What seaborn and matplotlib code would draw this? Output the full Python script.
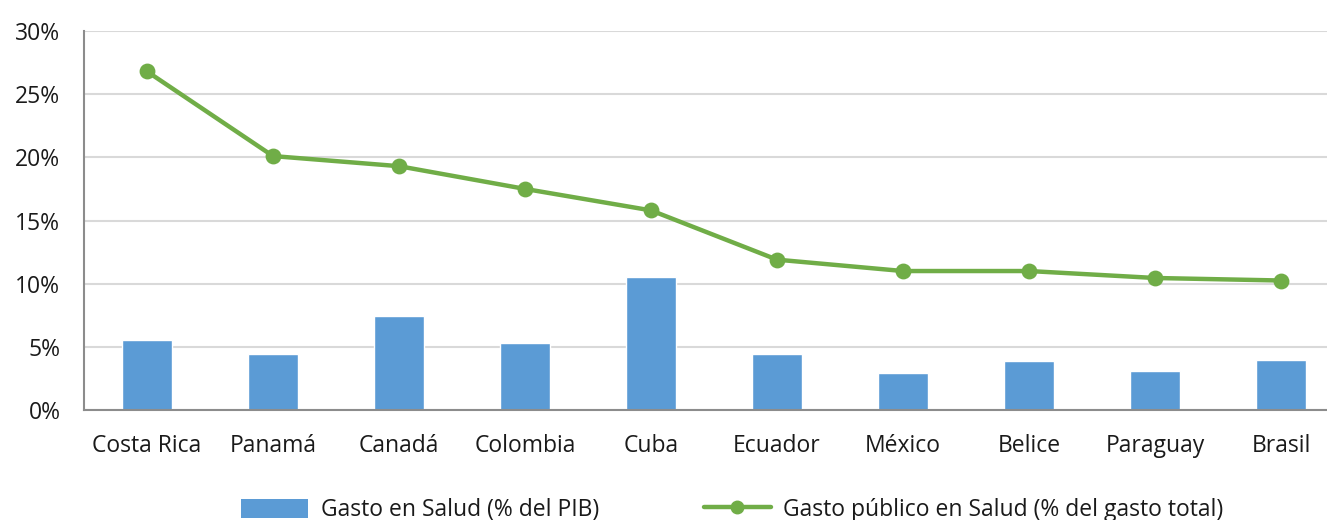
import matplotlib
matplotlib.use("Agg")
import matplotlib.pyplot as plt
import seaborn as sns
import pandas as pd
from matplotlib.patches import Patch
from matplotlib.lines import Line2D
from matplotlib.ticker import FuncFormatter

countries = ["Costa Rica", "Panamá", "Canadá", "Colombia", "Cuba",
             "Ecuador", "México", "Belice", "Paraguay", "Brasil"]
gasto_pib = [5.55, 4.4, 7.45, 5.3, 10.5, 4.4, 2.95, 3.9, 3.1, 3.95]
gasto_publico = [26.8, 20.1, 19.3, 17.5, 15.8, 11.9, 11.0, 11.0, 10.45, 10.25]
label_bar = "Gasto en Salud (% del PIB)"
label_line = "Gasto público en Salud (% del gasto total)"

df = pd.DataFrame({"pais": countries, "pib": gasto_pib, "publico": gasto_publico})

sns.set_theme(style="white")
plt.rcParams["font.family"] = ["Open Sans", "DejaVu Sans"]

blue = "#5B9BD5"
green = "#70AD47"

fig = plt.figure(figsize=(13.27, 5.2), dpi=100)
ax = fig.add_axes([84/1327, 1-410/520, 1-84/1327, (410-31)/520])

sns.barplot(data=df, x="pais", y="pib", color=blue, width=0.39,
            saturation=1, ax=ax, zorder=2)
sns.pointplot(data=df, x="pais", y="publico", color=green, markers="o",
              linestyles="-", linewidth=3.2, markersize=9, ax=ax, zorder=3)

ax.set_xlim(-0.5, 9.365)
ax.set_ylim(0, 30)
ax.set_yticks([0, 5, 10, 15, 20, 25, 30])
ax.yaxis.set_major_formatter(FuncFormatter(lambda v, p: f"{int(v)}%"))
ax.grid(axis="y", color="#d9d9d9", linewidth=1.5, zorder=0)
ax.set_axisbelow(True)
ax.set_xlabel("")
ax.set_ylabel("")
for s in ["top", "right"]:
    ax.spines[s].set_visible(False)
for s in ["left", "bottom"]:
    ax.spines[s].set_color("#8c8c8c")
    ax.spines[s].set_linewidth(1.5)
ax.tick_params(axis="y", length=0, pad=17, labelsize=16.5, colors="#1a1a1a")
ax.tick_params(axis="x", length=0, pad=17, labelsize=16.5, colors="#1a1a1a")

handles = [Patch(facecolor=blue, edgecolor="none"),
           Line2D([0], [0], color=green, linewidth=3.2, marker="o", markersize=9)]
fig.legend(handles, [label_bar, label_line], loc="center", bbox_to_anchor=(0.552, 0.019),
           ncol=2, frameon=False, fontsize=16.5, handlelength=2.9, handleheight=0.9,
           columnspacing=4.6, handletextpad=0.55, labelcolor="#1a1a1a")

fig.savefig("out.png", dpi=100)
